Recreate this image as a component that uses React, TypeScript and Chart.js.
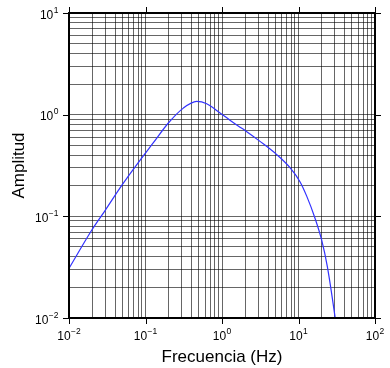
import React, { useEffect, useRef } from "react";
import { Chart, registerables } from "chart.js";

Chart.register(...registerables);

// Spectrum (frequency in Hz, amplitude)
const freq = [0.01, 0.0198, 0.0296, 0.0497, 0.0847, 0.126, 0.199, 0.312, 0.467, 0.631, 0.942, 1.27, 1.72, 2.0, 3.14, 5.19, 7.74, 10.5, 12.8, 16.4, 20.1, 23.8, 30, 33];
const amp = [0.0308, 0.073, 0.114, 0.205, 0.356, 0.527, 0.828, 1.16, 1.35, 1.28, 1.04, 0.883, 0.754, 0.70, 0.546, 0.405, 0.301, 0.218, 0.158, 0.0964, 0.0583, 0.0322, 0.0103, 0.006];

// Axis decades and their labels
const xMajor = [0.01, 0.1, 1, 10, 100];
const xExp = ["\u22122", "\u22121", "0", "1", "2"];
const yMajor = [0.01, 0.1, 1, 10];
const yExp = ["\u22122", "\u22121", "0", "1"];
const mantissas = [1, 2, 3, 4, 5, 6, 7, 8, 9];

const xTitle = "Frecuencia (Hz)";
const yTitle = "Amplitud";

const FONT = "'Liberation Sans', Arial, Helvetica, sans-serif";

function gridValues(majors: number[]): number[] {
  const out: number[] = [];
  for (let i = 0; i < majors.length - 1; i++) {
    for (const m of mantissas) out.push(+(m * majors[i]).toPrecision(6));
  }
  out.push(majors[majors.length - 1]);
  return out;
}

const framePlugin = {
  id: "frameAndLabels",
  afterDatasetsDraw(chart: any) {
    const { ctx, chartArea } = chart;
    const { left, right, top, bottom } = chartArea;
    const xs = chart.scales.x;
    const ys = chart.scales.y;
    ctx.save();
    // frame
    ctx.strokeStyle = "#000";
    ctx.lineWidth = 2;
    ctx.strokeRect(left, top, right - left, bottom - top);
    // major ticks
    ctx.lineWidth = 1;
    ctx.beginPath();
    xMajor.forEach((v) => {
      const p = Math.round(xs.getPixelForValue(v)) + 0.5;
      ctx.moveTo(p, bottom);
      ctx.lineTo(p, bottom + 6);
      ctx.moveTo(p, top);
      ctx.lineTo(p, top - 6);
    });
    yMajor.forEach((v) => {
      const p = Math.round(ys.getPixelForValue(v)) + 0.5;
      ctx.moveTo(left, p);
      ctx.lineTo(left - 6, p);
      ctx.moveTo(right, p);
      ctx.lineTo(right + 6, p);
    });
    ctx.stroke();

    // tick labels
    ctx.fillStyle = "#000";
    ctx.textBaseline = "alphabetic";
    ctx.textAlign = "left";
    const baseFont = `12px ${FONT}`;
    const expFont = `8.5px ${FONT}`;
    xMajor.forEach((v, i) => {
      const p = xs.getPixelForValue(v);
      ctx.font = baseFont;
      const w1 = ctx.measureText("10").width;
      ctx.font = expFont;
      const w2 = ctx.measureText(xExp[i]).width;
      const start = p - (w1 + w2 + 0.5) / 2;
      ctx.font = baseFont;
      ctx.fillText("10", start, bottom + 21.5);
      ctx.font = expFont;
      ctx.fillText(xExp[i], start + w1 + 0.5, bottom + 15.5);
    });
    yMajor.forEach((v, i) => {
      const p = ys.getPixelForValue(v);
      ctx.font = expFont;
      const w2 = ctx.measureText(yExp[i]).width;
      ctx.font = baseFont;
      const w1 = ctx.measureText("10").width;
      const end = left - 10.5;
      ctx.fillText("10", end - w2 - 0.5 - w1, p + 5.5);
      ctx.font = expFont;
      ctx.fillText(yExp[i], end - w2, p - 0.5);
    });

    // axis titles
    ctx.font = `17px ${FONT}`;
    ctx.textAlign = "center";
    ctx.fillText(xTitle, (left + right) / 2, 361.5);
    ctx.translate(24, (top + bottom) / 2);
    ctx.rotate(-Math.PI / 2);
    ctx.fillText(yTitle, 0, 0);
    ctx.restore();
  },
};

export default function App() {
  const ref = useRef<HTMLCanvasElement | null>(null);

  useEffect(() => {
    if (!ref.current) return;
    const gridColor = "rgba(0,0,0,0.6)";
    const chart = new Chart(ref.current, {
      type: "scatter",
      data: {
        datasets: [
          {
            data: freq.map((f, i) => ({ x: f, y: amp[i] })),
            showLine: true,
            borderColor: "rgb(50,50,255)",
            borderWidth: 1.2,
            pointRadius: 0,
            cubicInterpolationMode: "monotone",
            fill: false,
          },
        ],
      },
      options: {
        animation: false,
        responsive: false,
        devicePixelRatio: 1,
        layout: { padding: { top: 13, right: 15, left: 0, bottom: 0 } },
        plugins: { legend: { display: false }, tooltip: { enabled: false } },
        events: [],
        scales: {
          x: {
            type: "logarithmic",
            position: "bottom",
            min: 0.01,
            max: 100,
            grid: { color: gridColor, lineWidth: 1, drawTicks: false },
            border: { display: false },
            ticks: { display: false, autoSkip: false },
            afterBuildTicks: (s: any) => {
              s.ticks = gridValues(xMajor).map((v) => ({ value: v }));
            },
            afterFit: (s: any) => {
              s.height = 50;
            },
          },
          y: {
            type: "logarithmic",
            position: "left",
            min: 0.01,
            max: 10,
            grid: { color: gridColor, lineWidth: 1, drawTicks: false },
            border: { display: false },
            ticks: { display: false, autoSkip: false },
            afterBuildTicks: (s: any) => {
              s.ticks = gridValues(yMajor).map((v) => ({ value: v }));
            },
            afterFit: (s: any) => {
              s.width = 69;
            },
          },
        },
      } as any,
      plugins: [framePlugin],
    });
    return () => chart.destroy();
  }, []);

  return (
    <div style={{ position: "absolute", left: 0, top: 0, width: 390, height: 368, background: "#fff" }}>
      <canvas ref={ref} width={390} height={368} style={{ display: "block", width: 390, height: 368 }} />
    </div>
  );
}
